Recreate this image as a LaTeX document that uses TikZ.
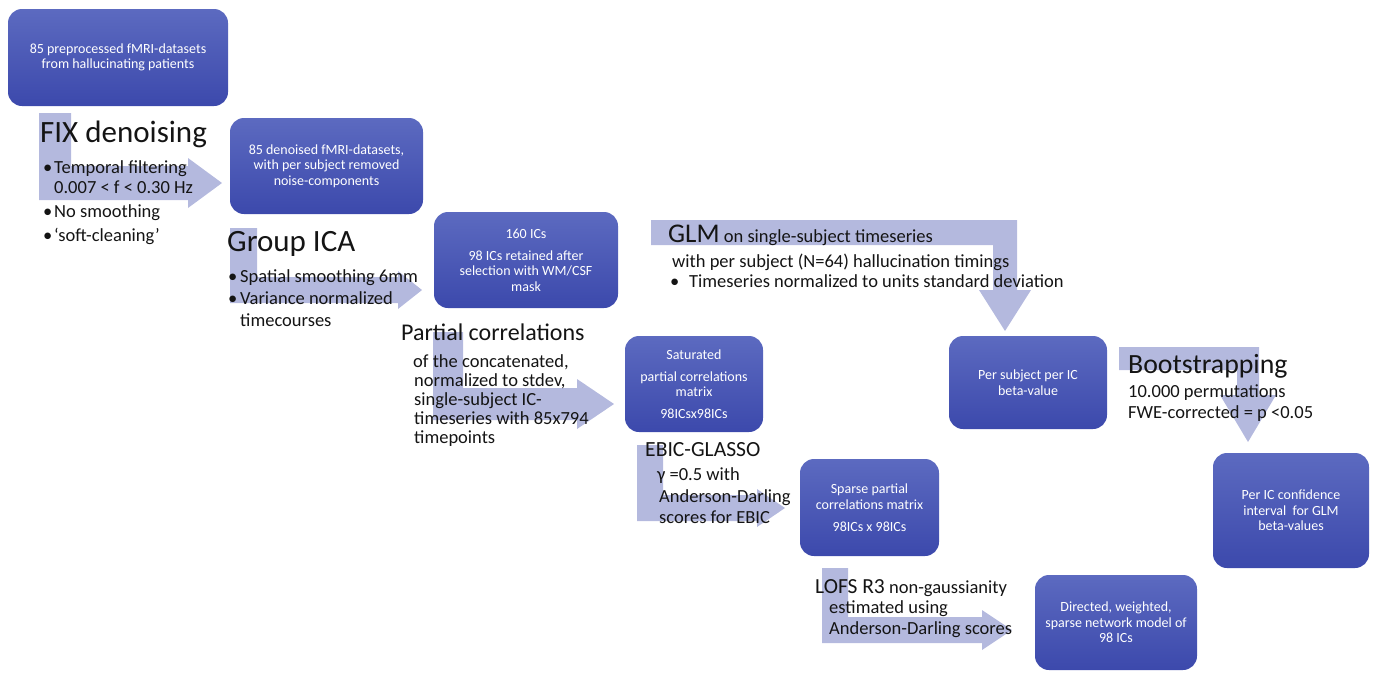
\documentclass[tikz,border=0pt]{standalone}
\usepackage{fontspec}
\setmainfont{Carlito}
\definecolor{arr}{RGB}{180,185,222}
\definecolor{btop}{RGB}{92,106,192}
\definecolor{bbot}{RGB}{60,73,172}
\definecolor{ink}{RGB}{20,20,20}
\newcommand{\bentright}[9]{% x0, w, ytop, yc, t, hx, h, tx, name
  \fill[arr] (#1,#3) -- ({#1+#2},#3) -- ({#1+#2},{#4-#5/2}) -- (#6,{#4-#5/2}) -- (#6,{#4-#7})
    -- (#8,#4) -- (#6,{#4+#7}) -- (#6,{#4+#5/2}) -- (#1,{#4+#5/2}) -- cycle;
  \coordinate (#9) at (#8,#4);}
\newcommand{\bentdown}[9]{% x0, ytop, t, xc, w, hy, h, ty, name
  \fill[arr] (#1,#2) -- ({#4+#5/2},#2) -- ({#4+#5/2},#6) -- ({#4+#7},#6) -- (#4,#8)
    -- ({#4-#7},#6) -- ({#4-#5/2},#6) -- ({#4-#5/2},{#2+#3}) -- (#1,{#2+#3}) -- cycle;
  \coordinate (#9) at (#4,#8);}
\tikzset{
  box/.style={rounded corners=14pt, top color=btop, bottom color=bbot, text=white,
    align=center, font=\fontsize{14}{15.5}\selectfont, inner sep=0pt},
  big/.style={anchor=base west, inner sep=0pt, text=ink, font=\fontsize{31}{31}\selectfont},
  txt/.style={anchor=base west, inner sep=0pt, text=ink, font=\fontsize{18.5}{20}\selectfont},
}
\begin{document}
\begin{tikzpicture}[x=1pt,y=-1pt]
\useasboundingbox (0,0) rectangle (1375,672);
% arrows
\bentright{39}{32}{113}{183}{34}{188}{25}{222}{a1}
\bentright{230}{27}{228}{290}{26}{398}{19}{422}{a2}
\bentright{433}{30}{332}{404}{32}{577}{25}{614}{a3}
\bentright{637}{26}{445}{508}{26}{757}{19}{785}{a4}
\bentright{822}{26}{568}{630}{26}{982}{20}{1012}{a5}
\bentdown{651}{220}{25}{1005}{24}{290}{26}{331}{a6}
\bentdown{1119}{347}{23}{1248}{22}{395}{28}{442}{a7}
% boxes
\node[box, minimum width=220pt, minimum height=97pt] (n1) at (118,57.5)
  {85 preprocessed fMRI-datasets\\from hallucinating patients};
\node[box, minimum width=193pt, minimum height=96pt] (n2) at (326.5,166)
  {85 denoised fMRI-datasets,\\with per subject removed\\noise-components};
\node[box, minimum width=184pt, minimum height=96pt] (n3) at (526,260)
  {160 ICs\\[6.5pt]98 ICs retained after\\selection with WM/CSF\\mask};
\node[box, minimum width=138pt, minimum height=96pt] (n4) at (694,384)
  {Saturated\\[6.5pt]partial correlations\\matrix\\[6.5pt]98ICsx98ICs};
\node[box, minimum width=158pt, minimum height=93pt] (n5) at (1028,382.5)
  {Per subject per IC\\beta-value};
\node[box, minimum width=156pt, minimum height=115pt] (n6) at (1291,510.5)
  {Per IC confidence\\interval\ \ for GLM\\beta-values};
\node[box, minimum width=139pt, minimum height=97pt] (n7) at (869.5,507.5)
  {Sparse partial\\correlations matrix\\[6.5pt]98ICs x 98ICs};
\node[box, minimum width=162pt, minimum height=95pt] (n8) at (1116,622.5)
  {Directed, weighted,\\sparse network model of\\98 ICs};
% FIX denoising
\node[big] (fix) at (40,142) {FIX denoising};
\node[txt] (fixb1) at (43,173) {•};
\node[txt] (fix1) at (54,173) {Temporal filtering};
\node[txt] (fix1b) at (54,193) {0.007 < f < 0.30 Hz};
\node[txt] (fixb2) at (43,217) {•};
\node[txt] (fix2) at (54,217) {No smoothing};
\node[txt] (fixb3) at (43,241) {•};
\node[txt] (fix3) at (54,241) {‘soft-cleaning’};
% Group ICA
\node[big] (gica) at (227,251) {Group ICA};
\node[txt] (gb1) at (228,282) {•};
\node[txt] (g1) at (240,282) {Spatial smoothing 6mm};
\node[txt] (gb2) at (228,304) {•};
\node[txt] (g2) at (240,304) {Variance normalized};
\node[txt] (g2b) at (240,326) {timecourses};
% Partial correlations
\node[txt, font=\fontsize{24}{24}\selectfont] (pc) at (401,340) {Partial correlations};
\node[txt] (pc1) at (413,367) {of the concatenated,};
\node[txt] (pc2) at (414,386) {normalized to stdev,};
\node[txt] (pc3) at (414,405) {single-subject IC-};
\node[txt] (pc4) at (414,424) {timeseries with 85x794};
\node[txt] (pc5) at (414,443) {timepoints};
% GLM
\node[txt] (glm) at (668,242) {{\fontsize{27}{27}\selectfont GLM} on single-subject timeseries};
\node[txt] (glm1) at (672,267) {with per subject (N=64) hallucination timings};
\node[txt] (glmb) at (670,287) {•};
\node[txt] (glm2) at (689,287) {Timeseries normalized to units standard deviation};
% Bootstrapping
\node[txt, font=\fontsize{27.8}{28}\selectfont] (bs) at (1128,373) {Bootstrapping};
\node[txt] (bs1) at (1128,397) {10.000 permutations};
\node[txt] (bs2) at (1128,418) {FWE-corrected = p <0.05};
% EBIC-GLASSO
\node[txt, font=\fontsize{21.6}{22}\selectfont] (eb) at (645,456) {EBIC-GLASSO};
\node[txt] (eb1) at (657,480) {γ =0.5 with};
\node[txt] (eb2) at (659,502) {Anderson-Darling};
\node[txt] (eb3) at (659,523) {scores for EBIC};
% LOFS
\node[txt] (lofs) at (815,593) {{\fontsize{21.5}{22}\selectfont LOFS R3} non-gaussianity};
\node[txt] (lofs1) at (829,613) {estimated using};
\node[txt] (lofs2) at (829,634) {Anderson-Darling scores};
\end{tikzpicture}
\end{document}
